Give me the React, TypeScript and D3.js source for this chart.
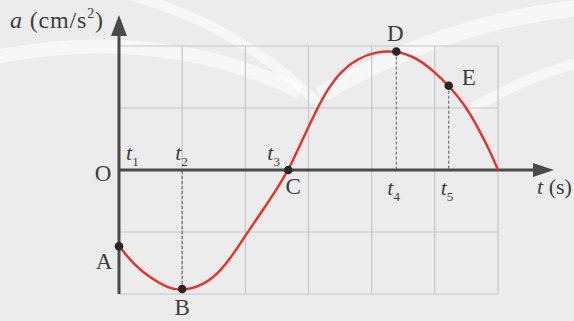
import React from 'react'
import { scaleLinear, line, curveBasis } from 'd3'

// curve: t in grid columns, a in grid rows
const tValues = [0, 0.24, 0.51, 0.77, 1.0, 1.3, 1.56, 1.83, 2.01, 2.25, 2.51, 2.68, 2.83, 3.1, 3.3, 3.52, 3.78, 4.05, 4.39, 4.73, 5.0, 5.22, 5.47, 5.68, 5.87, 6.0]
const aValues = [-1.23, -1.53, -1.75, -1.9, -1.95, -1.87, -1.69, -1.33, -1.04, -0.69, -0.29, 0, 0.32, 0.92, 1.3, 1.6, 1.8, 1.9, 1.93, 1.8, 1.58, 1.36, 1.06, 0.69, 0.31, 0]

// marked points
const pointNames = ['A', 'B', 'C', 'D', 'E']
const pointT = [0, 1.0, 2.68, 4.39, 5.22]
const pointA = [-1.23, -1.92, 0, 1.91, 1.36]

// time marks on the t axis
const tickSubs = ['1', '2', '3', '4', '5']
const tickT = [0, 1.0, 2.68, 4.39, 5.22]

const gridCols = [0, 1, 2, 3, 4, 5, 6]
const gridRows = [-2, -1, 0, 1, 2]

const W = 574
const H = 321
const FONT = '"Liberation Serif", "Times New Roman", serif'
const INK = '#3c3c3c'
const AXIS = '#4a4a4a'

// label placement (layout only)
const labelDx = [-15, 0, 5, -1, 20]
const labelDy = [23, 26, 24, -11, -1]
const tickDx = [7, -7, -21, -9, -8]
const tickBelow = [false, false, false, true, true]

const x = scaleLinear().domain([0, 6]).range([119, 498])
const y = scaleLinear().domain([-2, 2]).range([294, 46])

const App = () => {
  const pts: [number, number][] = tValues.map((t, i) => [t, aValues[i]])
  const path = line<[number, number]>()
    .x(d => x(d[0]))
    .y(d => y(d[1]))
    .curve(curveBasis)(pts)

  const y0 = y(0)
  const x0 = x(0)

  return (
    <svg width={W} height={H} style={{ position: 'absolute', left: 0, top: 0 }} fontFamily={FONT}>
      <rect width={W} height={H} fill="#ececec" />
      {/* faint background swooshes */}
      <g fill="none" stroke="#fff" strokeOpacity={0.6}>
        <path d="M -10 58 C 80 40, 190 38, 300 92" strokeWidth={14} />
        <path d="M 130 -5 C 200 15, 265 50, 320 105" strokeWidth={10} />
        <path d="M 320 95 C 400 50, 480 18, 580 8" strokeWidth={16} />
        <path d="M 470 110 C 510 85, 545 72, 580 62" strokeWidth={10} />
      </g>

      {/* grid */}
      <g stroke="#c6c6c6" strokeWidth={1.2}>
        {gridCols.map(c => (
          <line key={'c' + c} x1={x(c)} x2={x(c)} y1={y(2)} y2={y(-2)} />
        ))}
        {gridRows.map(r => (
          <line key={'r' + r} x1={x(0)} x2={x(6)} y1={y(r)} y2={y(r)} />
        ))}
      </g>

      {/* dashed drop lines */}
      <g stroke="#5a5a5a" strokeWidth={1} strokeDasharray="3,2">
        {pointNames.map((n, i) =>
          n === 'B' || n === 'D' || n === 'E' ? (
            <line key={n} x1={x(pointT[i])} x2={x(pointT[i])} y1={y(pointA[i])} y2={y0} />
          ) : null
        )}
      </g>

      {/* axes */}
      <line x1={x0} x2={x0} y1={y(-2)} y2={34} stroke={AXIS} strokeWidth={3} />
      <polygon points={`${x0},15 ${x0 - 8},36 ${x0 + 8},36`} fill={AXIS} />
      <line x1={x0} x2={536} y1={y0} y2={y0} stroke={AXIS} strokeWidth={3} />
      <polygon points={`554,${y0} 533,${y0 - 7} 533,${y0 + 7}`} fill={AXIS} />

      {/* curve */}
      <path d={path || ''} fill="none" stroke="#e8302b" strokeWidth={2.4} />

      {/* points */}
      {pointNames.map((n, i) => (
        <circle key={n} cx={x(pointT[i])} cy={y(pointA[i])} r={4.3} fill="#262626" />
      ))}
      {pointNames.map((n, i) => (
        <text key={'l' + n} x={x(pointT[i]) + labelDx[i]} y={y(pointA[i]) + labelDy[i]}
          textAnchor="middle" fontSize={23} fill={INK}>{n}</text>
      ))}

      {/* t marks */}
      {tickSubs.map((s, i) => (
        <text key={'t' + s} x={x(tickT[i]) + tickDx[i]} y={tickBelow[i] ? y0 + 25 : y0 - 10}
          fontSize={22} fill={INK}>
          <tspan fontStyle="italic">t</tspan>
          <tspan fontSize={13} dy={6}>{s}</tspan>
        </text>
      ))}

      <text x={x0 - 16} y={y0 + 11} textAnchor="middle" fontSize={23} fill={INK}>O</text>

      {/* axis titles */}
      <text x={10} y={28} fontSize={24} fill={INK} textLength={93} lengthAdjust="spacing">
        <tspan fontStyle="italic">a</tspan>
        <tspan> (cm/s</tspan>
        <tspan fontSize={14} dy={-10}>2</tspan>
        <tspan dy={10}>)</tspan>
      </text>
      <text x={537} y={194} fontSize={22} fill={INK}>
        <tspan fontStyle="italic">t</tspan>
        <tspan> (s)</tspan>
      </text>
    </svg>
  )
}

export default App
